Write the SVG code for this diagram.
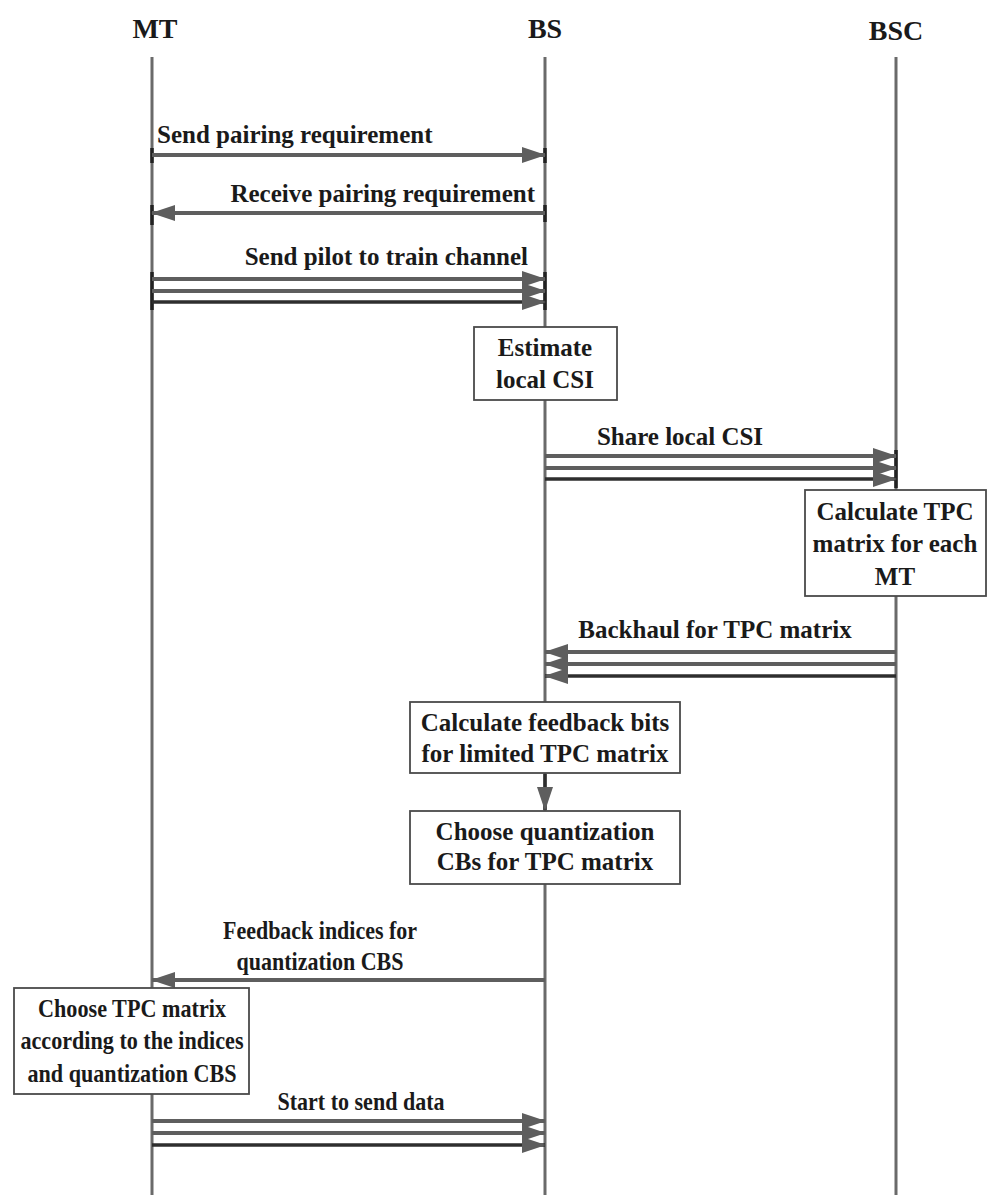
<svg xmlns="http://www.w3.org/2000/svg" width="990" height="1195" viewBox="0 0 990 1195">
<style>
.hdr{font-family:"Liberation Serif","Times New Roman",serif;font-weight:bold;font-size:28px;fill:#1a1a1a;text-anchor:middle}
.lbl{font-family:"Liberation Serif","Times New Roman",serif;font-weight:bold;font-size:25px;fill:#1a1a1a}
.mid{text-anchor:middle}
.end{text-anchor:end}
.life{stroke:#6a6a6a;stroke-width:3;fill:none}
.msg{stroke:#5e5e5e;stroke-width:4;fill:none}
.msgd{stroke:#2e2e2e;stroke-width:3.5;fill:none}
.tick{stroke:#222;stroke-width:3.5;fill:none}
.box{fill:#fff;stroke:#4a4a4a;stroke-width:1.8}
</style>
<defs>
<marker id="ah" markerUnits="userSpaceOnUse" markerWidth="24" markerHeight="16" viewBox="0 0 24 16" refX="23" refY="8" orient="auto">
<path d="M0,0 L24,8 L0,16 Z" fill="#5e5e5e"/>
</marker>
</defs>
<rect width="990" height="1195" fill="#fff"/>

<g id="lifelines">
<g id="MT"><text class="hdr" x="155" y="38">MT</text><line class="life" x1="152" y1="57" x2="152" y2="1195"/></g>
<g id="BS"><text class="hdr" x="545" y="38">BS</text><line class="life" x1="545" y1="57" x2="545" y2="1195"/></g>
<g id="BSC"><text class="hdr" x="896" y="40">BSC</text><line class="life" x1="896" y1="57" x2="896" y2="1195"/></g>
</g>

<g id="connectors">
<line class="tick" x1="152" y1="148" x2="152" y2="163"/>
<line class="tick" x1="545" y1="148" x2="545" y2="163"/>
<line class="msg" x1="152" y1="155" x2="545" y2="155" marker-end="url(#ah)"/>
<text class="lbl" x="157" y="143">Send pairing requirement</text>

<line class="tick" x1="152" y1="205" x2="152" y2="225"/>
<line class="tick" x1="545" y1="205" x2="545" y2="222"/>
<line class="msg" x1="545" y1="213" x2="152" y2="213" marker-end="url(#ah)"/>
<text class="lbl end" x="535" y="202">Receive pairing requirement</text>

<line class="tick" x1="152" y1="272" x2="152" y2="310"/>
<line class="tick" x1="545" y1="272" x2="545" y2="310"/>
<line class="msg" x1="152" y1="279" x2="545" y2="279" marker-end="url(#ah)"/>
<line class="msg" x1="152" y1="291" x2="545" y2="291" marker-end="url(#ah)"/>
<line class="msgd" x1="152" y1="302" x2="545" y2="302" marker-end="url(#ah)"/>
<text class="lbl end" x="528" y="265">Send pilot to train channel</text>

<line class="tick" x1="896" y1="450" x2="896" y2="488"/>
<line class="msg" x1="545" y1="456" x2="896" y2="456" marker-end="url(#ah)"/>
<line class="msg" x1="545" y1="468" x2="896" y2="468" marker-end="url(#ah)"/>
<line class="msgd" x1="545" y1="479" x2="896" y2="479" marker-end="url(#ah)"/>
<text class="lbl mid" x="680" y="445">Share local CSI</text>

<line class="msg" x1="896" y1="652" x2="545" y2="652" marker-end="url(#ah)"/>
<line class="msg" x1="896" y1="664" x2="545" y2="664" marker-end="url(#ah)"/>
<line class="msgd" x1="896" y1="676" x2="545" y2="676" marker-end="url(#ah)"/>
<text class="lbl mid" x="715" y="638">Backhaul for TPC matrix</text>

<line class="msgd" x1="545" y1="774" x2="545" y2="810" marker-end="url(#ah)"/>

<line class="msg" x1="545" y1="980" x2="152" y2="980" marker-end="url(#ah)"/>
<text class="lbl mid" x="320" y="939" textLength="194" lengthAdjust="spacingAndGlyphs">Feedback indices for</text>
<text class="lbl mid" x="320" y="970" textLength="167" lengthAdjust="spacingAndGlyphs">quantization CBS</text>

<line class="msg" x1="152" y1="1121" x2="545" y2="1121" marker-end="url(#ah)"/>
<line class="msg" x1="152" y1="1133" x2="545" y2="1133" marker-end="url(#ah)"/>
<line class="msgd" x1="152" y1="1145" x2="545" y2="1145" marker-end="url(#ah)"/>
<text class="lbl mid" x="361" y="1110" textLength="167" lengthAdjust="spacingAndGlyphs">Start to send data</text>
</g>

<g id="estimate">
<rect class="box" x="474" y="327" width="143" height="73"/>
<text class="lbl mid" x="545" y="356">Estimate</text>
<text class="lbl mid" x="545" y="388">local CSI</text>
</g>

<g id="calcTPC">
<rect class="box" x="805" y="490" width="181" height="106"/>
<text class="lbl mid" x="895" y="520">Calculate TPC</text>
<text class="lbl mid" x="895" y="552">matrix for each</text>
<text class="lbl mid" x="895" y="585">MT</text>
</g>

<g id="feedbackBits">
<rect class="box" x="410" y="702" width="270" height="71"/>
<text class="lbl mid" x="545" y="731">Calculate feedback bits</text>
<text class="lbl mid" x="545" y="762">for limited TPC matrix</text>
</g>

<g id="chooseCBs">
<rect class="box" x="410" y="811" width="270" height="73"/>
<text class="lbl mid" x="545" y="840">Choose quantization</text>
<text class="lbl mid" x="545" y="870">CBs for TPC matrix</text>
</g>

<g id="chooseTPC">
<rect class="box" x="14" y="988" width="235" height="106"/>
<text class="lbl mid" x="132" y="1017" textLength="188" lengthAdjust="spacingAndGlyphs">Choose TPC matrix</text>
<text class="lbl mid" x="132" y="1049" textLength="223" lengthAdjust="spacingAndGlyphs">according to the indices</text>
<text class="lbl mid" x="132" y="1082" textLength="209" lengthAdjust="spacingAndGlyphs">and quantization CBS</text>
</g>
</svg>
